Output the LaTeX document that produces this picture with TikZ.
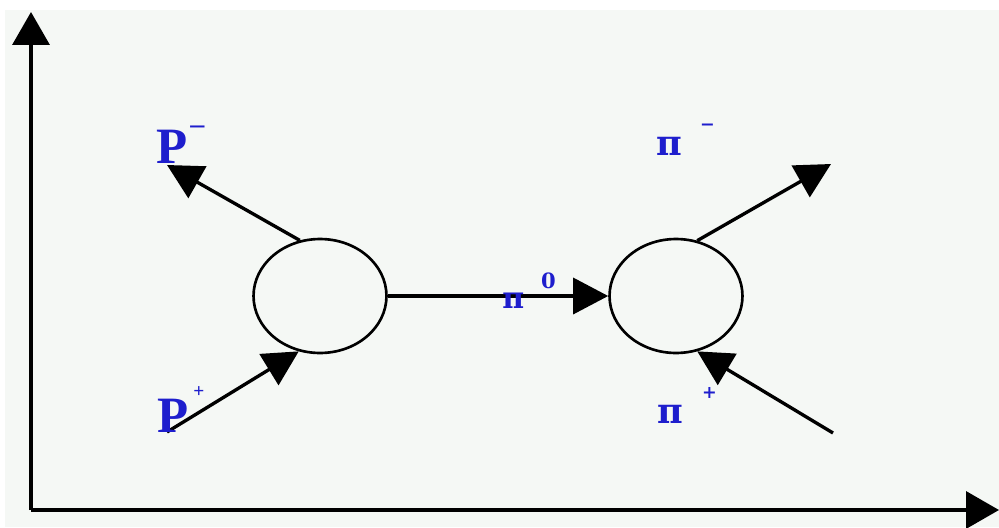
\documentclass[tikz,border=0pt]{standalone}
\usepackage{fontspec}
\usetikzlibrary{arrows.meta,shapes.geometric}
\newfontfamily\pfont{Liberation Serif}
\newfontfamily\pifont{DejaVu Serif}
\definecolor{lblblue}{RGB}{30,30,205}
\definecolor{bgpaper}{RGB}{245,248,245}
\tikzset{
  vtx/.style={draw, ellipse, line width=1.5pt, minimum width=2.66cm, minimum height=2.28cm, inner sep=0pt},
  arr/.style={-{Triangle[length=0.7cm, width=0.72cm]}, line width=1.9pt},
  axisarr/.style={-{Triangle[length=0.66cm, width=0.74cm]}, line width=2pt},
  plbl/.style={text=lblblue, font=\pfont\bfseries\fontsize{29}{29}\selectfont, inner sep=0pt, anchor=base west},
  pilbl/.style={text=lblblue, font=\pifont\bfseries\fontsize{20}{20}\selectfont, inner sep=0pt, anchor=base west},
}

\begin{document}
\begin{tikzpicture}[x=0.02cm, y=-0.02cm]
\fill[white] (0,0) rectangle (999,527);
\fill[bgpaper] (5,10) rectangle (999,527);
\useasboundingbox (0,0) rectangle (999,527);

% axes
\coordinate (org) at (31,510);
\coordinate (ytip) at (31,12);
\coordinate (xtip) at (999,510);
\draw[axisarr] (org) -- (ytip);
\draw[axisarr] (org) -- (xtip);

% interaction blobs
\node[vtx] (vl) at (320,296) {};
\node[vtx] (vr) at (676,296) {};

% free ends
\coordinate (pm) at (167,165);
\coordinate (pp) at (167,432);
\coordinate (pim) at (831,164);
\coordinate (pip) at (833,433);

\draw[arr] (pp) -- (vl.249);
\draw[arr] (vl.110) -- (pm);
\draw[arr] (vl.east) -- (vr.west);
\draw[arr] (vr.69) -- (pim);
\draw[arr] (pip) -- (vr.291);

% labels
\node[plbl] (lpm) at (156,163) {P\hspace{0.06cm}\raisebox{0.6cm}{\fontsize{16}{16}\selectfont –}};
\node[plbl] (lpp) at (157,432) {P\hspace{0.1cm}\raisebox{0.7cm}{\fontsize{11}{11}\selectfont +}};
\node[pilbl] (lpi0) at (502,308) {\fontsize{17}{17}\selectfont π\hspace{0.34cm}\raisebox{0.4cm}{\fontsize{12}{12}\selectfont 0}};
\node[pilbl] (lpim) at (656,155) {π\hspace{0.36cm}\raisebox{0.5cm}{\fontsize{10}{10}\selectfont −}};
\node[pilbl] (lpip) at (657,423) {π\hspace{0.38cm}\raisebox{0.5cm}{\fontsize{10}{10}\selectfont +}};

\end{tikzpicture}
\end{document}
